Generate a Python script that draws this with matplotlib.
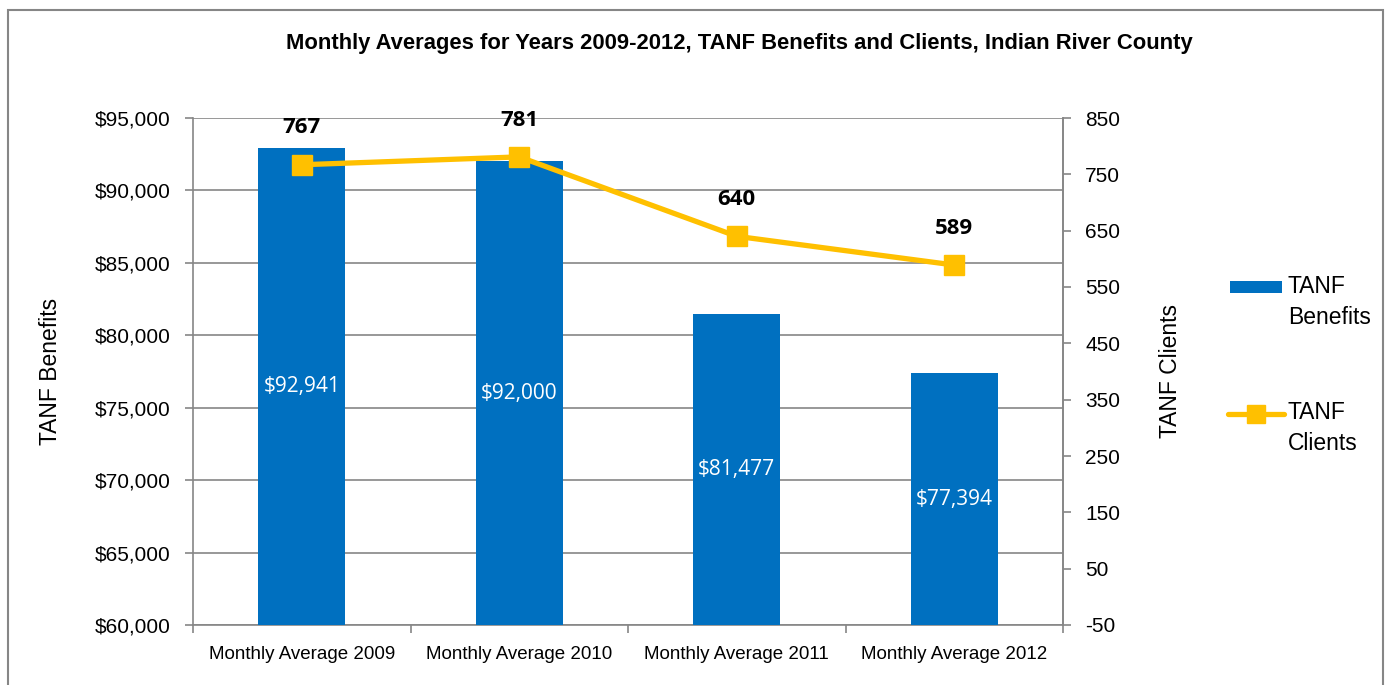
import matplotlib
matplotlib.use("Agg")
import matplotlib.pyplot as plt
from matplotlib.lines import Line2D
from matplotlib.patches import Rectangle
from matplotlib.ticker import FuncFormatter, MultipleLocator, FixedLocator
import numpy as np

categories = ["Monthly Average 2009", "Monthly Average 2010", "Monthly Average 2011", "Monthly Average 2012"]
benefits = [92941, 92000, 81477, 77394]
clients = [767, 781, 640, 589]
client_ticks = [-50, 50, 150, 250, 350, 450, 550, 650, 750, 850]

NARROW = ["Liberation Sans Narrow", "Liberation Sans", "DejaVu Sans"]
LABELF = ["Open Sans", "DejaVu Sans"]
plt.rcParams['font.family'] = NARROW
plt.rcParams['axes.unicode_minus'] = False

blue = "#0070C0"
gold = "#FFC000"
gray = "#868686"

W, H = 1392, 685
fig = plt.figure(figsize=(W / 100, H / 100), dpi=100)
fig.patches.append(Rectangle((8 / W, -0.01), (1383 - 8) / W, 1 - 10 / H + 0.01,
                             transform=fig.transFigure, fill=False, edgecolor=gray, linewidth=1.5))

ax = fig.add_axes([193 / W, 1 - 625 / H, (1063 - 193) / W, (625 - 118) / H])
x = np.arange(len(categories))
ax.bar(x, benefits, width=0.4, color=blue, zorder=3)
ax.set_ylim(60000, 95000)
ax.set_xlim(-0.5, len(categories) - 0.5)
ax.yaxis.set_major_locator(MultipleLocator(5000))
ax.yaxis.set_major_formatter(FuncFormatter(lambda v, p: f"${v:,.0f}"))
ax.grid(axis='y', color=gray, linewidth=1.2, zorder=0)
ax.set_xticks(x)
ax.set_xticklabels(categories, fontsize=13.5)
ax.set_xticks(np.arange(-0.5, len(categories)), minor=True)
ax.tick_params(axis='x', which='major', length=0, pad=15)
ax.tick_params(axis='x', which='minor', length=6, color=gray, width=1.2)
ax.tick_params(axis='y', labelsize=15, length=6, color=gray, width=1.2, pad=10)
ax.spines['top'].set_visible(False)
for s in ['left', 'bottom', 'right']:
    ax.spines[s].set_color(gray)
    ax.spines[s].set_linewidth(1.2)
ax.set_ylabel("TANF Benefits", fontsize=16.5, labelpad=24)

for xi, v in zip(x, benefits):
    ax.text(xi, (60000 + v) / 2, f"${v:,.0f}", ha='center', va='center', color='white',
            fontsize=15, family=LABELF, zorder=4)

ax2 = ax.twinx()
ax2.set_ylim(-50, 850)
ax2.yaxis.set_major_locator(FixedLocator(client_ticks))
ax2.plot(x, clients, color=gold, linewidth=3.8, marker='s', markersize=14.5, zorder=5)
for xi, v in zip(x, clients):
    ax2.annotate(f"{v}", (xi, v), xytext=(0, 26.5), textcoords='offset points', ha='center', va='center',
                 fontsize=16, fontweight='bold', family=LABELF)
for s in ['top', 'left', 'bottom']:
    ax2.spines[s].set_visible(False)
ax2.spines['right'].set_color(gray)
ax2.spines['right'].set_linewidth(1.2)
ax2.tick_params(axis='y', labelsize=15, length=6, color=gray, width=1.2, pad=10)
ax2.set_ylabel("TANF Clients", fontsize=16.5, labelpad=28)

fig.text(739 / W, 1 - 44 / H, "Monthly Averages for Years 2009-2012, TANF Benefits and Clients, Indian River County",
         ha='center', va='center', fontsize=15.8, fontweight='bold')

# legend (drawn manually to match spacing)
fig.patches.append(Rectangle((1230 / W, 1 - 293 / H), 52 / W, 12 / H, transform=fig.transFigure,
                             facecolor=blue, edgecolor='none'))
fig.add_artist(Line2D([1228 / W, 1284 / W], [1 - 414 / H, 1 - 414 / H], transform=fig.transFigure,
                      color=gold, linewidth=3.8, solid_capstyle='round'))
fig.add_artist(Line2D([1256 / W], [1 - 414 / H], transform=fig.transFigure, color=gold,
                      marker='s', markersize=13, linestyle='none'))
fig.text(1288 / W, 1 - 302 / H, "TANF\nBenefits", ha='left', va='center', fontsize=16.5, linespacing=1.45)
fig.text(1288 / W, 1 - 428 / H, "TANF\nClients", ha='left', va='center', fontsize=16.5, linespacing=1.45)

fig.savefig("out.png", dpi=100)
